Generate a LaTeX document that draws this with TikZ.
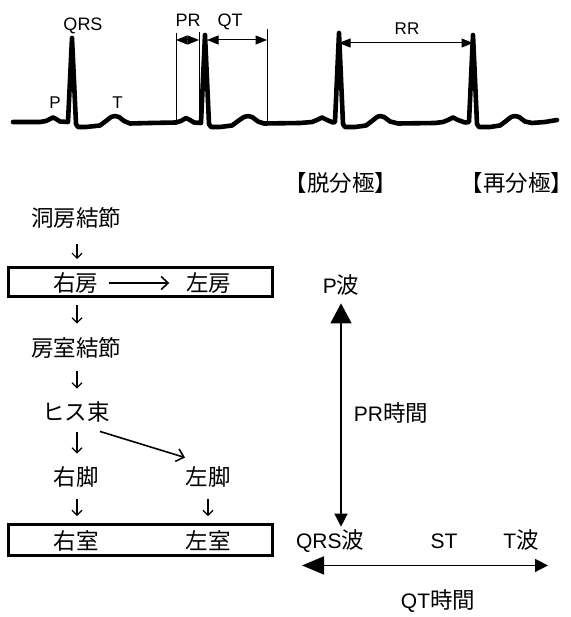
\documentclass[tikz,border=0pt]{standalone}
\usepackage{fontspec}
\setmainfont{Noto Sans CJK JP}
\newfontfamily\lat{Liberation Sans}
\newcommand\latx[1]{{\lat\fontsize{21}{24}\selectfont #1}}
\usetikzlibrary{arrows.meta}
\tikzset{
  jp/.style={inner sep=0pt, text height=16.5pt, text depth=0pt, font=\fontsize{22.5}{26}\selectfont},
  ecgl/.style={inner sep=0pt, text height=12.9pt, text depth=0pt, font=\lat\fontsize{18}{21}\selectfont},
  ecgs/.style={ecgl, font=\lat\fontsize{17}{20}\selectfont},
  ecg/.style={line width=4.6pt, line join=round, line cap=round},
  mark line/.style={line width=1pt},
  dimarr/.style={line width=1pt, {Triangle[length=11.5pt,width=9pt]}-{Triangle[length=11.5pt,width=9pt]}},
  framebox/.style={draw, line width=3pt, inner sep=0pt},
  downarr/.style={line width=1.2pt, -{Straight Barb[length=5pt,width=10pt]}},
  flowarr/.style={line width=1.6pt, -{Straight Barb[length=7pt,width=13pt]}},
  axisarr/.style={line width=1.5pt}
}
\begin{document}
\begin{tikzpicture}[x=1pt,y=-1pt]
\useasboundingbox (0,0) rectangle (570,617);

% ---------------- ECG trace ----------------
\draw[ecg] (13,122) -- (40,122) -- (46,121) -- (50,119) -- (53,117.5) -- (56,119) -- (60,121.5) -- (68,122)
  -- (72,38) -- (76,124) -- (78,127) -- (86,127) -- (100,125.5)
  -- (106,121) -- (111,117) -- (115,116) -- (119,117) -- (124,121) -- (130,123.5) -- (150,123) -- (176,122.5)
  -- (181,121) -- (186,118) -- (190,120) -- (194,122.5) -- (201,123)
  -- (205,35) -- (209,124) -- (211,127) -- (220,127) -- (232,125.5)
  -- (238,121) -- (244,117) -- (248,116) -- (252,117) -- (258,121.5) -- (264,123.5) -- (300,123) -- (312,122)
  -- (317,120) -- (322,117.5) -- (327,120) -- (333,122.5) -- (335,122)
  -- (339,33) -- (343,124) -- (345,127) -- (355,127) -- (366,125.5)
  -- (372,121) -- (377,117) -- (380,116) -- (384,117) -- (390,121.5) -- (398,123.5) -- (435,123) -- (443,122)
  -- (448,120) -- (453,117.5) -- (458,120) -- (465,122.5) -- (469,122)
  -- (473,35) -- (477,124) -- (479,127) -- (490,127) -- (500,125.5)
  -- (506,121) -- (511,117) -- (515,116) -- (519,117) -- (525,121.5) -- (532,123) -- (545,122) -- (557,120);

% interval marker lines
\draw[mark line] (176,33) -- (176,121);
\draw[mark line] (199,32) -- (199,123);
\draw[mark line] (267,29) -- (267,124);

% interval arrows
\draw[dimarr] (176,40) -- (199,40);
\draw[dimarr] (207,40) -- (267,40);
\draw[dimarr] (339,43) -- (473,43);

% ECG labels
\node[ecgl] (lqrs) at (83,24) {QRS};
\node[ecgl] (lpr) at (188,20) {PR};
\node[ecgl] (lqt) at (230,20) {QT};
\node[ecgs] (lrr) at (407,28) {RR};
\node[ecgs] (lp) at (55,102) {P};
\node[ecgs] (lt) at (117.5,102) {T};

% ---------------- headings ----------------
\node[jp] (depol) at (341,183) {【脱分極】};
\node[jp] (repol) at (517,183) {【再分極】};

% ---------------- conduction pathway ----------------
\node[framebox, minimum width=264pt, minimum height=29pt] (boxA) at (140.5,282) {};
\node[framebox, minimum width=264pt, minimum height=31pt] (boxV) at (140.5,540) {};

\node[jp] (sa) at (76,218) {洞房結節};
\node[jp] (ra) at (75.5,283) {右房};
\node[jp] (la) at (208.5,283) {左房};
\node[jp] (av) at (76,348) {房室結節};
\node[jp] (his) at (76,412) {ヒス束};
\node[jp] (rb) at (76,477) {右脚};
\node[jp] (lb) at (208,477) {左脚};
\node[jp] (rv) at (76,541) {右室};
\node[jp] (lv) at (208,541) {左室};

\draw[downarr, shorten <=18pt, shorten >=7pt] ([xshift=1pt]sa.south) -- ([xshift=1pt]sa.south |- boxA.north);
\draw[downarr, shorten <=7pt, shorten >=16pt] ([xshift=1pt]sa.south |- boxA.south) -- ([xshift=1pt]av.north);
\draw[downarr, shorten <=15pt, shorten >=15pt] ([xshift=1pt]av.south) -- ([xshift=1pt]his.north);
\draw[downarr, shorten <=12pt, shorten >=15pt] ([xshift=1pt]his.south) -- ([xshift=1pt]rb.north);
\draw[downarr, shorten <=14pt, shorten >=7pt] ([xshift=1pt]rb.south) -- ([xshift=1pt]rb.south |- boxV.north);
\draw[downarr, shorten <=14pt, shorten >=7pt] (lb.south) -- (lb.south |- boxV.north);

\draw[flowarr, shorten <=10.5pt, shorten >=16.5pt] (ra.east) -- (la.west);
\draw[flowarr] ([xshift=24pt,yshift=-11pt]his.south) -- ([xshift=-23pt,yshift=11pt]lb.north);

% ---------------- wave / interval diagram ----------------
\node[jp] (pw) at (341,285) {\latx{P}波};
\node[jp] (prt) at (391,413) {\latx{PR}時間};
\node[jp] (qrs) at (330,540) {\latx{QRS}波};
\node[jp] (st) at (444,540) {\latx{ST}};
\node[jp] (tw) at (521,540) {\latx{T}波};
\node[jp] (qtt) at (438,600) {\latx{QT}時間};

\draw[axisarr, {Triangle[length=20pt,width=21pt]}-{Triangle[length=13pt,width=13pt]}, shorten <=9.9pt, shorten >=4.9pt]
  (pw.south) -- (pw.south |- qrs.north);
\draw[axisarr, {Triangle[length=22pt,width=18pt]}-{Triangle[length=13pt,width=13pt]}]
  ([xshift=-28pt,yshift=-17pt]qrs.south) -- ([xshift=27pt,yshift=-17pt]tw.south);
\end{tikzpicture}
\end{document}
